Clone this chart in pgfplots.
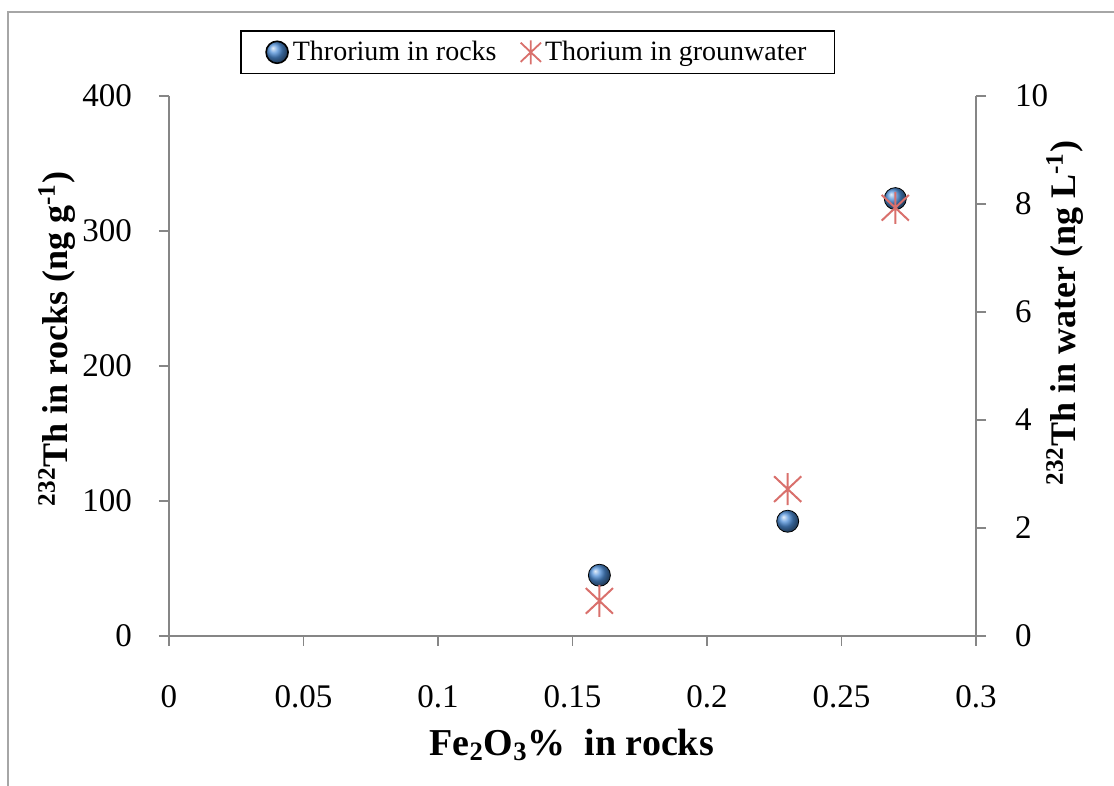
\documentclass[border=0pt]{standalone}
\usepackage{fontspec}
\setmainfont{Liberation Serif}
\usepackage{pgfplots}
\pgfplotsset{compat=1.18}
\definecolor{axisgray}{HTML}{868686}
\definecolor{frame}{HTML}{A6A6A6}
\definecolor{rockblue}{HTML}{4F8FD8}
\definecolor{waterred}{HTML}{D9706C}

\pgfdeclareplotmark{xstar}{%
  \pgfpathmoveto{\pgfqpoint{0pt}{\pgfplotmarksize}}%
  \pgfpathlineto{\pgfqpoint{0pt}{-\pgfplotmarksize}}%
  \pgfpathmoveto{\pgfqpoint{-.85\pgfplotmarksize}{.8\pgfplotmarksize}}%
  \pgfpathlineto{\pgfqpoint{.85\pgfplotmarksize}{-.8\pgfplotmarksize}}%
  \pgfpathmoveto{\pgfqpoint{-.85\pgfplotmarksize}{-.8\pgfplotmarksize}}%
  \pgfpathlineto{\pgfqpoint{.85\pgfplotmarksize}{.8\pgfplotmarksize}}%
  \pgfusepathqstroke}

\pgfplotsset{
  base/.style={
    scale only axis,
    width=403.5pt, height=270pt,
    at={(84.5pt,75pt)}, anchor=south west,
    axis line style={axisgray, line width=0.9pt},
    tick style={axisgray, line width=0.9pt},
    major tick length=5pt,
    tick align=outside,
    ticklabel style={font=\fontsize{16.5}{18}\selectfont},
    /pgf/number format/assume math mode=true,
    /pgf/number format/fixed,
    ylabel style={font=\fontsize{18}{21}\selectfont\bfseries},
    xlabel style={font=\fontsize{19}{22}\selectfont\bfseries},
  },
}

\begin{document}
\begin{tikzpicture}
\useasboundingbox (0,0) rectangle (557pt,393pt);
\draw[frame, line width=1pt] (4pt,0) -- (4pt,387pt) -- (557pt,387pt);

\begin{axis}[
  base,
  xmin=0, xmax=0.3, ymin=0, ymax=400,
  axis x line*=bottom, axis y line*=left,
  xtick={0,0.05,...,0.3},
  xticklabels={0,0.05,0.1,0.15,0.2,0.25,0.3},
  ytick={0,100,...,400},
  xticklabel style={yshift=-16pt},
  yticklabel style={xshift=-10pt},
  xlabel={Fe$_\mathbf{2}$O$_\mathbf{3}$\%\ \ in rocks},
  xlabel style={at={(axis description cs:0.499,-0.202)}, anchor=center},
  ylabel={\textsuperscript{232}Th in rocks (ng g\textsuperscript{-1})},
  ylabel style={at={(axis description cs:-0.139,0.55)}, anchor=center},
  legend columns=2,
  legend style={at={(axis description cs:0.457,1.081)}, anchor=center,
    draw=black, line width=0.8pt, font=\fontsize{14}{16}\selectfont,
    /tikz/every even column/.append style={column sep=10pt},
    inner xsep=12pt, inner ysep=3pt},
]
\addplot[only marks, mark=ball, mark size=5.5pt, ball color=rockblue] coordinates {
  (0.16,45) (0.23,85) (0.27,324)
};
\addlegendentry{Throrium in rocks}
\addlegendimage{only marks, mark=xstar, mark size=6pt, draw=waterred, line width=0.9pt}
\addlegendentry{Thorium in grounwater}
\end{axis}

\begin{axis}[
  base,
  xmin=0, xmax=0.3, ymin=0, ymax=10,
  axis x line=none, axis y line*=right,
  ytick={0,2,...,10},
  yticklabel style={xshift=11pt},
  ylabel={\textsuperscript{232}Th in water (ng L\textsuperscript{-1})},
  ylabel style={at={(axis description cs:1.110,0.598)}, anchor=center, rotate=0},
]
\addplot[only marks, mark=xstar, mark size=8pt, draw=waterred, line width=1pt] coordinates {
  (0.16,0.65) (0.23,2.72) (0.27,7.93)
};
\end{axis}
\end{tikzpicture}
\end{document}
